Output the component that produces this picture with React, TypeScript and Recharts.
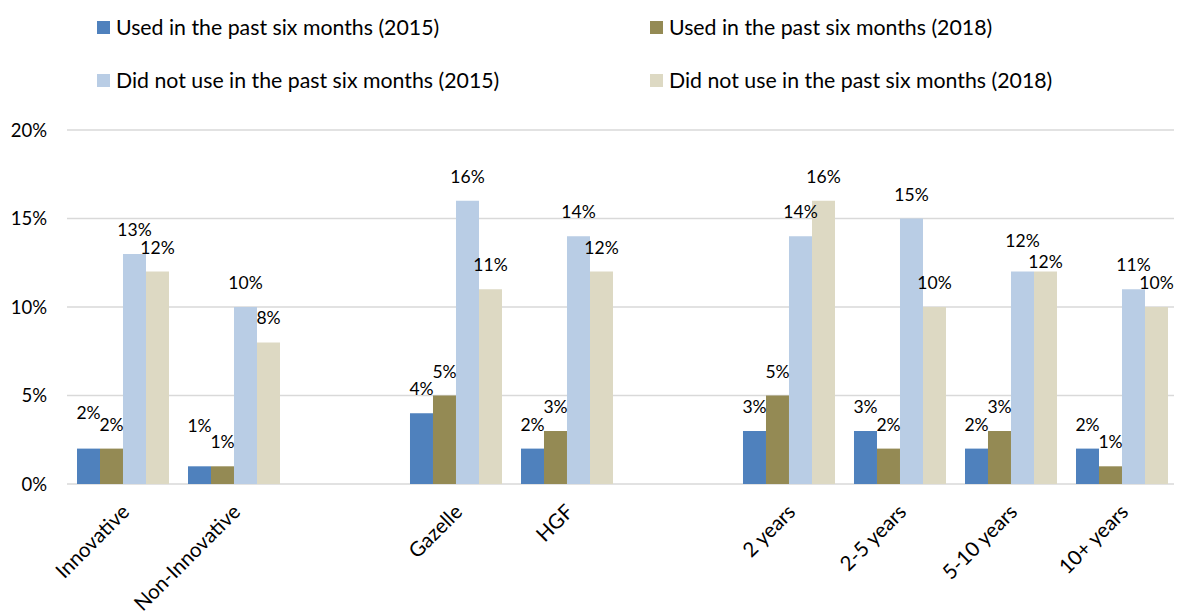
import { BarChart, Bar, XAxis, YAxis, CartesianGrid, LabelList } from 'recharts';

const categories = ['Innovative', 'Non-Innovative', ' ', 'Gazelle', 'HGF', '  ', '2 years', '2-5 years', '5-10 years', '10+ years'];

const used2015 = [2, 1, null, 4, 2, null, 3, 3, 2, 2];
const used2018 = [2, 1, null, 5, 3, null, 5, 2, 3, 1];
const notUsed2015 = [13, 10, null, 16, 14, null, 14, 15, 12, 11];
const notUsed2018 = [12, 8, null, 11, 12, null, 16, 10, 12, 10];

const yTicks = [0, 5, 10, 15, 20];

const SERIES = [
  { key: 'u15', name: 'Used in the past six months (2015)', color: '#4F81BD', values: used2015 },
  { key: 'u18', name: 'Used in the past six months (2018)', color: '#948A54', values: used2018 },
  { key: 'n15', name: 'Did not use in the past six months (2015)', color: '#B9CDE5', values: notUsed2015 },
  { key: 'n18', name: 'Did not use in the past six months (2018)', color: '#DDD9C3', values: notUsed2018 },
];

const data = categories.map((name, i) => {
  const row: any = { name };
  SERIES.forEach(s => { row[s.key] = s.values[i]; });
  return row;
});

const FONT = 'Lato, "Liberation Sans", sans-serif';

// a few labels were nudged in the original to keep them from colliding
const nudge: Record<string, Record<string, number>> = {
  u15: { 'Innovative': 12, 'Non-Innovative': 16 },
  n15: { '5-10 years': 7 },
  n18: { '5-10 years': -14 },
};

const makeLabel = (s: typeof SERIES[number]) => {
  // label list skips empty cells, so map its index back to the category
  const cats = categories.filter((_, i) => s.values[i] != null);
  return (props: any) => {
    const { x, y, width, value, index } = props;
    if (value == null) return null;
    const cat = cats[index];
    const lift = (nudge[s.key] && nudge[s.key][cat]) || 0;
    return (
      <text x={x + width / 2} y={y - 18 - lift} textAnchor="middle" fontSize={17.5} fontFamily={FONT} fill="#000">
        {value}%
      </text>
    );
  };
};

const XTick = (props: any) => {
  const { x, y, payload } = props;
  const tx = x - 2;
  const ty = y + 11;
  return (
    <text x={tx} y={ty} dy="0.7em" textAnchor="end" fontSize={20.5} fontFamily={FONT} fill="#000"
      transform={`rotate(-45 ${tx} ${ty})`}>
      {payload.value.trim()}
    </text>
  );
};

const legendPos = [
  { left: 89, top: 19 },
  { left: 642, top: 19 },
  { left: 89, top: 72 },
  { left: 642, top: 72 },
];

export default function App() {
  return (
    <div style={{ position: 'relative', width: 1174, height: 608, fontFamily: FONT }}>
      {SERIES.map((s, i) => (
        <div key={s.key} style={{ position: 'absolute', left: legendPos[i].left, top: legendPos[i].top - 13, height: 26, display: 'flex', alignItems: 'center', whiteSpace: 'nowrap' }}>
          <span style={{ width: 13, height: 13, background: s.color, display: 'inline-block', marginRight: 6 }} />
          <span style={{ fontSize: 21.3, color: '#000' }}>{s.name}</span>
        </div>
      ))}
      <BarChart
        width={1174}
        height={608}
        data={data}
        margin={{ top: 122, right: 5, bottom: 0, left: 0 }}
        barCategoryGap="9%"
        barGap={0}
      >
        <CartesianGrid vertical={false} stroke="#D9D9D9" strokeWidth={1.5} />
        <XAxis dataKey="name" axisLine={false} tickLine={false} height={132} interval={0} tick={<XTick />} />
        <YAxis
          domain={[0, 20]}
          ticks={yTicks}
          width={59}
          axisLine={false}
          tickLine={false}
          tickSize={0}
          tickMargin={20}
          tickFormatter={(v: number) => `${v}%`}
          tick={{ fontSize: 18.5, fontFamily: FONT, fill: '#000' }}
        />
        {SERIES.map(s => (
          <Bar key={s.key} dataKey={s.key} name={s.name} fill={s.color} isAnimationActive={false}>
            <LabelList dataKey={s.key} content={makeLabel(s)} />
          </Bar>
        ))}
      </BarChart>
    </div>
  );
}
